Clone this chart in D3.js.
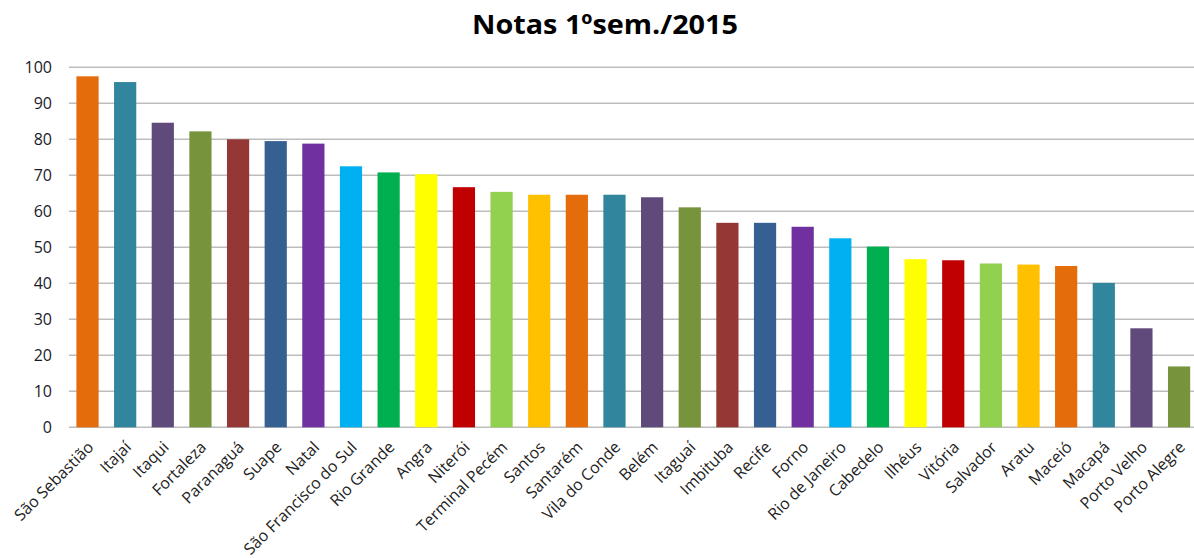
<!DOCTYPE html>
<html>
<head>
<meta charset="utf-8">
<script src="https://cdn.jsdelivr.net/npm/d3@7"></script>
<style>
  body { margin: 0; background: #fff; }
  svg { display: block; font-family: "Open Sans", sans-serif; }
</style>
</head>
<body>
<div class="chart-container"></div>
<script>
const width = 1194, height = 558;

// portos e notas
const portos = ["São Sebastião", "Itajaí", "Itaqui", "Fortaleza", "Paranaguá", "Suape", "Natal",
  "São Francisco do Sul", "Rio Grande", "Angra", "Niterói", "Terminal Pecém", "Santos", "Santarém",
  "Vila do Conde", "Belém", "Itaguaí", "Imbituba", "Recife", "Forno", "Rio de Janeiro", "Cabedelo",
  "Ilhéus", "Vitória", "Salvador", "Aratu", "Maceió", "Macapá", "Porto Velho", "Porto Alegre"];
const notas = [97.5, 95.9, 84.6, 82.2, 80.0, 79.5, 78.8, 72.5, 70.8, 70.3, 66.7, 65.4, 64.6, 64.6,
  64.6, 63.9, 61.1, 56.8, 56.8, 55.7, 52.5, 50.2, 46.7, 46.4, 45.5, 45.2, 44.8, 40.1, 27.5, 16.9];
const yTicks = [0, 10, 20, 30, 40, 50, 60, 70, 80, 90, 100];
// paleta que se repete a cada 13 barras
const palette = ["#E46C0A", "#31859C", "#604A7B", "#77933C", "#953735", "#366092", "#7030A0",
  "#00B0F0", "#00B050", "#FFFF00", "#C00000", "#92D050", "#FFC000"];

const svg = d3.select(".chart-container")
  .append("svg")
  .attr("width", width)
  .attr("height", height);

const x = d3.scaleBand().domain(portos).range([68.7, 1197.9]).paddingInner(0.41).paddingOuter(0.205);
const y = d3.scaleLinear().domain([0, 100]).range([427.3, 67.3]);

// titulo
svg.append("text")
  .attr("x", 605).attr("y", 34)
  .attr("text-anchor", "middle")
  .attr("font-size", "27px").attr("font-weight", "bold")
  .attr("fill", "#000")
  .attr("textLength", 266).attr("lengthAdjust", "spacingAndGlyphs")
  .text("Notas 1ºsem./2015");

// grade
svg.append("g").selectAll("line")
  .data(yTicks)
  .join("line")
  .attr("x1", 69).attr("x2", width)
  .attr("y1", d => y(d)).attr("y2", d => y(d))
  .attr("stroke", "#BDBDBD").attr("stroke-width", 1.5);

// eixo y
const yAxis = svg.append("g")
  .attr("transform", "translate(60,0)")
  .call(d3.axisLeft(y).tickValues(yTicks).tickSize(0).tickPadding(8));
yAxis.select(".domain").remove();
yAxis.selectAll("text")
  .attr("font-size", "16px").attr("fill", "#1a1a2a")
  .attr("font-family", "Open Sans, sans-serif");

// barras
svg.append("g").selectAll("rect")
  .data(portos)
  .join("rect")
  .attr("x", d => x(d))
  .attr("width", x.bandwidth())
  .attr("y", (d, i) => y(notas[i]))
  .attr("height", (d, i) => y(0) - y(notas[i]))
  .attr("fill", (d, i) => palette[i % palette.length]);

// eixo x
const xAxis = svg.append("g")
  .attr("transform", "translate(0," + y(0) + ")")
  .call(d3.axisBottom(x).tickSize(0).tickPadding(0));
xAxis.select(".domain").remove();
xAxis.selectAll("text")
  .attr("font-size", "16px").attr("fill", "#222")
  .attr("font-family", "Open Sans, sans-serif")
  .attr("text-anchor", "end")
  .attr("dy", "0.35em")
  .attr("transform", "translate(3,17) rotate(-45)");
</script>
</body>
</html>
